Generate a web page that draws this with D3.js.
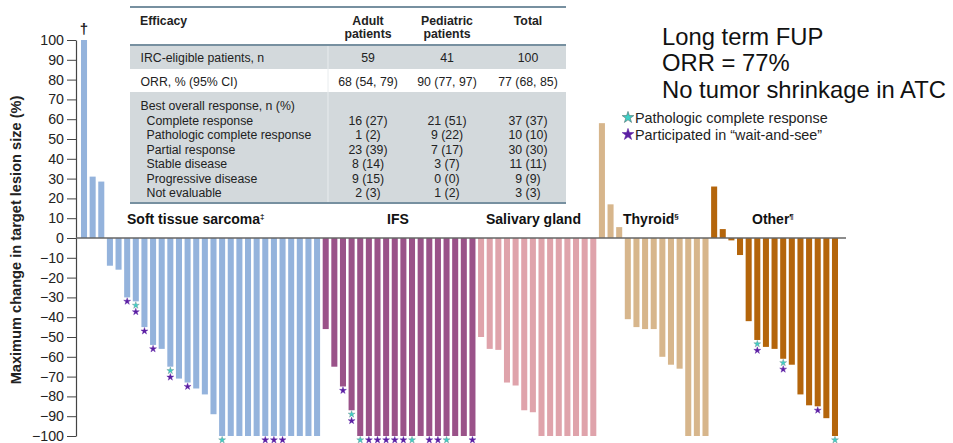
<!DOCTYPE html>
<html><head><meta charset="utf-8">
<script src="https://cdn.jsdelivr.net/npm/d3@7"></script>
<style>
html,body{margin:0;padding:0;background:#fff;}
svg{display:block;font-family:"Liberation Sans",Arial,sans-serif;}
</style></head>
<body><svg id="c" width="953" height="443"></svg>
<script>
// ---------------- DATA ----------------
const groupNames = ["Soft tissue sarcoma", "IFS", "Salivary gland", "Thyroid", "Other"];
const groupSuper = ["‡", "", "", "§", "¶"];
const groupColors = ["#94b3dc", "#9a5289", "#dfa3ab", "#d7b68c", "#b4650b"];

const stsValues = [100, 31, 28.5, -14, -16, -30, -32, -45, -54, -56, -65, -71, -73, -76, -79, -89,
  -100, -100, -100, -100, -100, -100, -100, -100, -100, -100, -100, -100];
const stsMarks  = ["", "", "", "", "", "p", "cp", "p", "p", "", "cp", "", "p", "", "", "",
  "c", "", "", "", "", "p", "p", "p", "", "", "", ""];

const ifsValues = [-46, -65, -75, -87, -100, -100, -100, -100, -100, -100, -100, -100, -100, -100, -100, -100, -100, -100];
const ifsMarks  = ["", "", "p", "cp", "c", "p", "p", "p", "p", "p", "c", "", "p", "p", "c", "", "", "p"];

const salValues = [-50, -56, -56.5, -73, -74.5, -87, -88, -100, -100, -100, -100, -100, -100, -100];
const salMarks  = ["", "", "", "", "", "", "", "", "", "", "", "", "", ""];

const thyValues = [58, 17, 5.5, -41, -45, -46, -46, -60, -64, -66, -100, -100, -100];
const thyMarks  = ["", "", "", "", "", "", "", "", "", "", "", "", ""];

const othValues = [26, 4.5, -1.2, -8.6, -42, -51.5, -55, -56, -61, -64, -79, -84.5, -85, -91, -100];
const othMarks  = ["", "", "", "", "", "cp", "", "", "cp", "", "", "", "p", "", "c"];

const yTickValues = [-100, -90, -80, -70, -60, -50, -40, -30, -20, -10, 0, 10, 20, 30, 40, 50, 60, 70, 80, 90, 100];
const yTitle = "Maximum change in target lesion size (%)";

const tableCols = ["Adult|patients", "Pediatric|patients", "Total"];
const tableRowLabels = ["IRC-eligible patients, n", "ORR, % (95% CI)", "Best overall response, n (%)",
  "Complete response", "Pathologic complete response", "Partial response", "Stable disease",
  "Progressive disease", "Not evaluable"];
const tableAdult = ["59", "68 (54, 79)", "", "16 (27)", "1 (2)", "23 (39)", "8 (14)", "9 (15)", "2 (3)"];
const tablePed   = ["41", "90 (77, 97)", "", "21 (51)", "9 (22)", "7 (17)", "3 (7)", "0 (0)", "1 (2)"];
const tableTotal = ["100", "77 (68, 85)", "", "37 (37)", "10 (10)", "30 (30)", "11 (11)", "9 (9)", "3 (3)"];

const noteLines = ["Long term FUP", "ORR = 77%", "No tumor shrinkage in ATC"];
const legendItems = [["c", "Pathologic complete response"], ["p", "Participated in \u201cwait-and-see\u201d"]];

// ---------------- BUILD ----------------
const groups = [
  {values: stsValues, marks: stsMarks},
  {values: ifsValues, marks: ifsMarks},
  {values: salValues, marks: salMarks},
  {values: thyValues, marks: thyMarks},
  {values: othValues, marks: othMarks}
];
const bars = [];
groups.forEach((g, gi) => g.values.forEach((v, i) => bars.push({id: bars.length, g: gi, v: v, m: g.marks[i]})));

const svg = d3.select("#c");
const font = '"Liberation Sans",Arial,sans-serif';

const x = d3.scaleBand().domain(bars.map(d => d.id)).range([79.7, 839.3]).paddingInner(0.3).paddingOuter(0.15);
const y = d3.scaleLinear().domain([-100, 100]).range([436, 40]);

// ---------- table ----------
const tX0 = 130, tX1 = 566;
const tbl = svg.append("g");
const grayC = "#d3d9dc", lineC = "#7790a0";
const tFs = 12.3;
tbl.append("rect").attr("x", tX0).attr("y", 45).attr("width", tX1 - tX0).attr("height", 24).attr("fill", grayC);
tbl.append("rect").attr("x", tX0).attr("y", 92).attr("width", tX1 - tX0).attr("height", 111).attr("fill", grayC);
tbl.append("line").attr("x1", 328).attr("x2", 328).attr("y1", 45).attr("y2", 203).attr("stroke", "#e8ecee").attr("stroke-width", 1);
[7, 45, 203].forEach(yy => tbl.append("line").attr("x1", tX0).attr("x2", tX1).attr("y1", yy).attr("y2", yy)
  .attr("stroke", lineC).attr("stroke-width", 1.8));
tbl.append("text").attr("x", 140).attr("y", 25).attr("font-size", tFs).attr("font-weight", "bold").attr("fill", "#222").text("Efficacy");
const colX = [368, 447, 528];
tableCols.forEach((c, i) => {
  const parts = c.split("|");
  parts.forEach((p, j) => tbl.append("text").attr("x", colX[i]).attr("y", 25 + j * 13).attr("text-anchor", "middle")
    .attr("font-size", tFs).attr("font-weight", "bold").attr("fill", "#222").text(p));
});
const rowY = [62, 85.5, 110, 124.5, 139, 153.5, 168, 182.5, 197];
tableRowLabels.forEach((r, i) => {
  tbl.append("text").attr("x", i >= 3 ? 146.5 : 140.5).attr("y", rowY[i]).attr("font-size", tFs).attr("fill", "#222").text(r);
  [tableAdult, tablePed, tableTotal].forEach((col, k) => {
    if (col[i]) tbl.append("text").attr("x", colX[k]).attr("y", rowY[i]).attr("text-anchor", "middle")
      .attr("font-size", tFs).attr("fill", "#222").text(col[i]);
  });
});

// ---------- y axis ----------
const ax = svg.append("g").attr("transform", "translate(76,0)")
  .call(d3.axisLeft(y).tickValues(yTickValues).tickSize(9).tickSizeOuter(0).tickPadding(3));
ax.select(".domain").attr("stroke", "#444").attr("stroke-width", 1.2);
ax.selectAll(".tick line").attr("stroke", "#444").attr("stroke-width", 1);
ax.selectAll(".tick text").attr("font-size", 14.2).attr("font-family", font).attr("fill", "#222");

svg.append("text").attr("transform", "translate(21,240) rotate(-90)").attr("text-anchor", "middle")
  .attr("font-size", 14.6).attr("font-weight", "bold").attr("fill", "#222").text(yTitle);

// ---------- bars ----------
svg.append("g").selectAll("rect").data(bars).join("rect")
  .attr("x", d => x(d.id)).attr("width", x.bandwidth())
  .attr("y", d => Math.min(y(d.v), y(0))).attr("height", d => Math.abs(y(d.v) - y(0)))
  .attr("fill", d => groupColors[d.g]);

// zero line
svg.append("line").attr("x1", 76).attr("x2", 846).attr("y1", y(0)).attr("y2", y(0)).attr("stroke", "#666").attr("stroke-width", 1.5);

// dagger
svg.append("text").attr("x", x(0) + x.bandwidth() / 2).attr("y", 34).attr("text-anchor", "middle")
  .attr("font-size", 15).attr("font-weight", "bold").attr("fill", "#222").text("†");

// ---------- stars ----------
const starC = {c: "#3fd0c6", p: "#5b1fa3"};
const starStroke = {c: "#6c8c8c", p: "#5b1fa3"};
const starPts = [];
bars.forEach(d => {
  d.m.split("").forEach((t, k) => starPts.push({id: d.id, v: d.v, t: t, k: k}));
});
svg.append("g").selectAll("path").data(starPts).join("path")
  .attr("d", d3.symbol(d3.symbolStar).size(15))
  .attr("transform", d => `translate(${x(d.id) + x.bandwidth() / 2},${y(d.v) + 4 + d.k * 6.5})`)
  .attr("fill", d => starC[d.t]).attr("stroke", d => starStroke[d.t]).attr("stroke-width", 0.4);

// ---------- group labels ----------
const labelX = [127, 398, 486, 623, 752];
const labelAnchor = ["start", "middle", "start", "start", "start"];
groupNames.forEach((n, i) => {
  const t = svg.append("text").attr("x", labelX[i]).attr("y", 224).attr("text-anchor", labelAnchor[i])
    .attr("font-size", 14).attr("font-weight", "bold").attr("fill", "#111").text(n);
  if (groupSuper[i]) t.append("tspan").attr("font-size", 8).attr("dy", -5.5).text(groupSuper[i]);
});

// ---------- notes ----------
noteLines.forEach((s, i) => svg.append("text").attr("x", 662).attr("y", 45 + i * 26.3)
  .attr("font-size", 23.8).attr("fill", "#111").text(s));

// ---------- legend ----------
legendItems.forEach((it, i) => {
  svg.append("path").attr("d", d3.symbol(d3.symbolStar).size(42))
    .attr("transform", `translate(628,${117.5 + i * 17})`)
    .attr("fill", starC[it[0]]).attr("stroke", it[0] === "c" ? "#4a6a6a" : starC.p).attr("stroke-width", 0.6);
  svg.append("text").attr("x", 635).attr("y", 122.5 + i * 17).attr("font-size", 14.4).attr("fill", "#222").text(it[1]);
});
</script></body></html>
